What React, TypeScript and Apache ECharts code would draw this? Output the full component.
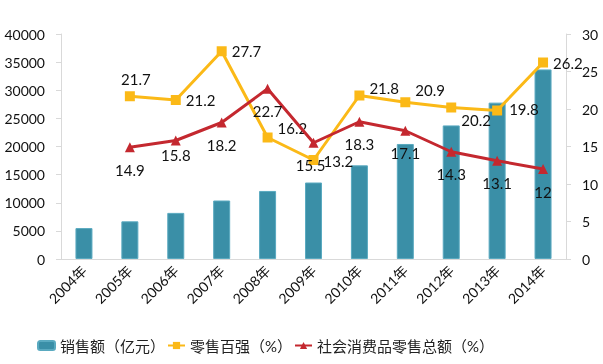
import React, { useEffect, useRef } from "react";
import * as echarts from "echarts";

const categories = ["2004年", "2005年", "2006年", "2007年", "2008年", "2009年", "2010年", "2011年", "2012年", "2013年", "2014年"];
const salesValues = [5500, 6700, 8200, 10400, 12100, 13600, 16650, 20450, 23750, 27800, 33700];
const top100Values: (number | null)[] = [null, 21.7, 21.2, 27.7, 16.2, 13.2, 21.8, 20.9, 20.2, 19.8, 26.2];
const retailTotalValues: (number | null)[] = [null, 14.9, 15.8, 18.2, 22.7, 15.5, 18.3, 17.1, 14.3, 13.1, 12];
const leftTicks = { min: 0, max: 40000, interval: 5000 };
const rightTicks = { min: 0, max: 30, interval: 5 };

// label layout (style only)
const top100LabelLayout: ({ position: string; offset: number[] } | null)[] = [
  null,
  { position: "top", offset: [6, 0] },
  { position: "right", offset: [0, 0] },
  { position: "right", offset: [0, 0] },
  { position: "right", offset: [0, -10] },
  { position: "right", offset: [0, 1] },
  { position: "right", offset: [0, -8] },
  { position: "right", offset: [0, -12] },
  { position: "right", offset: [0, 12] },
  { position: "right", offset: [2, -2] },
  { position: "right", offset: [0, 0] },
];
const retailLabelOffsets: number[][] = [[0, 0], [0, 0], [0, -8], [0, 0], [0, 0], [-3, 0], [0, 0], [0, 0], [0, 0], [0, 0], [0, 0]];

const FONT = 'Lato, "Noto Sans CJK SC", sans-serif';
const AXIS_COLOR = "#d9d9d9";

export default function App() {
  const ref = useRef<HTMLDivElement>(null);
  useEffect(() => {
    if (!ref.current) return;
    const chart = echarts.init(ref.current, undefined, { renderer: "svg" });
    chart.setOption({
      animation: false,
      textStyle: { fontFamily: FONT },
      grid: { left: 61, right: 37, top: 34, bottom: 105 },
      legend: {
        top: 333,
        left: 32,
        itemWidth: 17,
        itemHeight: 9,
        itemGap: 2,
        textStyle: { fontFamily: FONT, fontSize: 15, color: "#222" },
        data: ["销售额（亿元）", "零售百强（%）", "社会消费品零售总额（%）"],
      },
      xAxis: {
        type: "category",
        data: categories,
        axisLine: { lineStyle: { color: AXIS_COLOR } },
        axisTick: { length: 5, lineStyle: { color: AXIS_COLOR } },
        axisLabel: { rotate: 45, fontSize: 14, color: "#111", margin: 9, fontFamily: FONT },
      },
      yAxis: [
        {
          type: "value",
          ...leftTicks,
          splitLine: { show: false },
          axisLine: { show: true, lineStyle: { color: AXIS_COLOR } },
          axisTick: { show: true, length: 5, lineStyle: { color: AXIS_COLOR } },
          axisLabel: { fontSize: 14, color: "#111", margin: 16, fontFamily: FONT, formatter: (v: number) => String(v) },
        },
        {
          type: "value",
          ...rightTicks,
          splitLine: { show: false },
          axisLine: { show: true, lineStyle: { color: AXIS_COLOR } },
          axisTick: { show: true, length: 5, lineStyle: { color: AXIS_COLOR } },
          axisLabel: { fontSize: 14, color: "#111", margin: 16, fontFamily: FONT },
        },
      ],
      series: [
        {
          name: "销售额（亿元）",
          type: "bar",
          data: salesValues,
          barWidth: 17,
          itemStyle: { color: "#3a8fa7", borderColor: "#5aaac0", borderWidth: 1 },
          z: 1,
        },
        {
          name: "零售百强（%）",
          type: "line",
          yAxisIndex: 1,
          data: top100Values.map((v, i) => {
            const l = top100LabelLayout[i];
            return v == null ? null : { value: v, label: l ? { position: l.position, offset: l.offset } : undefined };
          }),
          connectNulls: false,
          symbol: "rect",
          symbolSize: 10,
          lineStyle: { color: "#fbb917", width: 3 },
          itemStyle: { color: "#fbb917" },
          label: { show: true, fontSize: 15, color: "#111", fontFamily: FONT, distance: 5 },
          z: 3,
        },
        {
          name: "社会消费品零售总额（%）",
          type: "line",
          yAxisIndex: 1,
          data: retailTotalValues.map((v, i) =>
            v == null ? null : { value: v, label: { offset: retailLabelOffsets[i] } }
          ),
          symbol: "triangle",
          symbolSize: 10,
          lineStyle: { color: "#c4282f", width: 3 },
          itemStyle: { color: "#c4282f" },
          label: { show: true, position: "bottom", distance: 10, fontSize: 15, color: "#111", fontFamily: FONT },
          z: 4,
        },
      ],
    });
    return () => chart.dispose();
  }, []);
  return <div ref={ref} style={{ position: "fixed", left: 0, top: 0, width: 603, height: 364 }} />;
}
